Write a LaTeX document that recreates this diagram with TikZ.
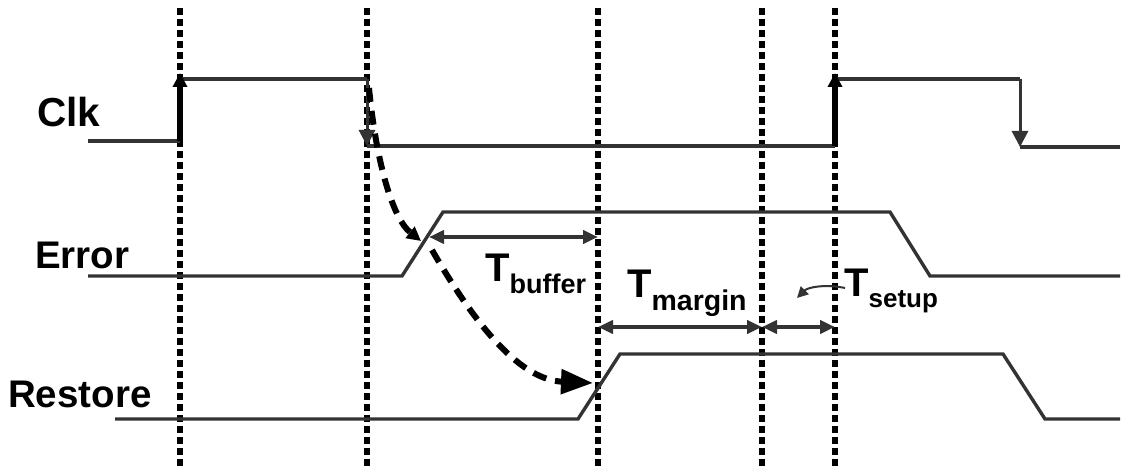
\documentclass[tikz,border=0pt]{standalone}
\usepackage{fontspec}
\setmainfont{Liberation Sans}
\usetikzlibrary{arrows.meta}
\definecolor{sigc}{HTML}{333333}
\begin{document}
\begin{tikzpicture}[x=1pt,y=-1pt,
  sig/.style={line width=3.4pt, draw=sigc, line join=miter},
  gridline/.style={line width=6pt, dash pattern=on 7pt off 4pt, black},
  clkup/.style={line width=6pt, black, -{Triangle[length=14pt,width=14pt]}},
  clkdown/.style={line width=3pt, draw=sigc, -{Triangle[length=16pt,width=16pt]}, fill=sigc},
  dimarr/.style={line width=3.8pt, draw=sigc, {Triangle[length=15pt,width=13pt]}-{Triangle[length=15pt,width=13pt]}},
  dashcurve/.style={line width=6pt, black, dash pattern=on 14pt off 9pt},
  lbl/.style={font=\bfseries\fontsize{38.5}{40}\selectfont, anchor=base west, inner sep=0pt},
  tlbl/.style={font=\bfseries\fontsize{40}{44}\selectfont, anchor=base west, inner sep=0pt}
]
\useasboundingbox (0,0) rectangle (1144,470);

% vertical dashed grid lines
\foreach \n/\x in {a/180,b/367,c/598,d/762,e/835}{
  \coordinate (top\n) at (\x,8);
  \coordinate (bot\n) at (\x,470);
  \draw[gridline] (top\n) -- (bot\n);
}

% Clk
\coordinate (c0) at (88,141);
\coordinate (c1) at (180,141);
\coordinate (c1t) at (180,73);
\coordinate (c2) at (180,79);
\coordinate (c3) at (367,79);
\coordinate (c4) at (367,146);
\coordinate (c5) at (835,146);
\coordinate (c5t) at (835,73);
\coordinate (c6) at (835,79);
\coordinate (c7) at (1020,79);
\coordinate (c8) at (1020,147);
\coordinate (c9) at (1120,147);
\draw[sig] (c0) -- (c1);
\draw[sig] (c2) -- (c3);
\draw[sig] (c4) -- (c5);
\draw[sig] (c6) -- (c7);
\draw[sig] (c8) -- (c9);
\draw[clkup] (c1) -- (c1t);
\draw[clkup] (c5) -- (c5t);
\draw[clkdown] (c3) -- (c4);
\draw[clkdown] (c7) -- (c8);

% Error
\coordinate (e0) at (88,276);
\coordinate (e1) at (402,276);
\coordinate (e2) at (443,212);
\coordinate (e3) at (890,212);
\coordinate (e4) at (930,276);
\coordinate (e5) at (1120,276);
\draw[sig] (e0) -- (e1) -- (e2) -- (e3) -- (e4) -- (e5);

% Restore
\coordinate (r0) at (115,419);
\coordinate (r1) at (578,419);
\coordinate (r2) at (620,354);
\coordinate (r3) at (1003,354);
\coordinate (r4) at (1045,419);
\coordinate (r5) at (1120,419);
\draw[sig] (r0) -- (r1) -- (r2) -- (r3) -- (r4) -- (r5);

% labels
\node[lbl, font=\bfseries\fontsize{40.5}{42}\selectfont] (lclk) at (37,127) {Clk};
\node[lbl] (lerr) at (35,269) {Error};
\node[lbl] (lres) at (8,407) {Restore};

% dashed causal curves
\coordinate (d0) at (369,88);
\coordinate (d1) at (421,241);
\coordinate (d2) at (432,250);
\coordinate (d3) at (593,383);
\draw[dashcurve, -{Triangle[length=14pt,width=14pt]}] (d0) .. controls (376,160) and (392,218) .. (d1);
\draw[dashcurve, -{Triangle[length=32pt,width=24pt]}] (d2) .. controls (478,330) and (522,380) .. (d3);

% dimension arrows
\coordinate (tb0) at (429,237);
\coordinate (tb1) at (598,237);
\draw[dimarr] (tb0) -- (tb1);
\coordinate (tm0) at (598,327);
\coordinate (tm1) at (762,327);
\coordinate (ts1) at (835,327);
\draw[dimarr] (tm0) -- (tm1);
\draw[dimarr] (tm1) -- (ts1);

% dimension labels
\node[tlbl] (tbuf) at (485,282) {T\raisebox{-12pt}{\fontsize{27}{28}\selectfont buffer}};
\node[tlbl] (tmar) at (627,298) {T\raisebox{-13pt}{\fontsize{28.5}{30}\selectfont margin}};
\node[tlbl] (tset) at (844,297) {T\raisebox{-11pt}{\fontsize{26}{28}\selectfont setup}};

% small curved pointer
\coordinate (p0) at (845,288);
\coordinate (p1) at (797,298);
\draw[line width=2pt, draw=sigc, -{Triangle[length=11pt,width=11pt]}] (p0) .. controls (826,284) and (808,287) .. (p1);
\end{tikzpicture}
\end{document}
